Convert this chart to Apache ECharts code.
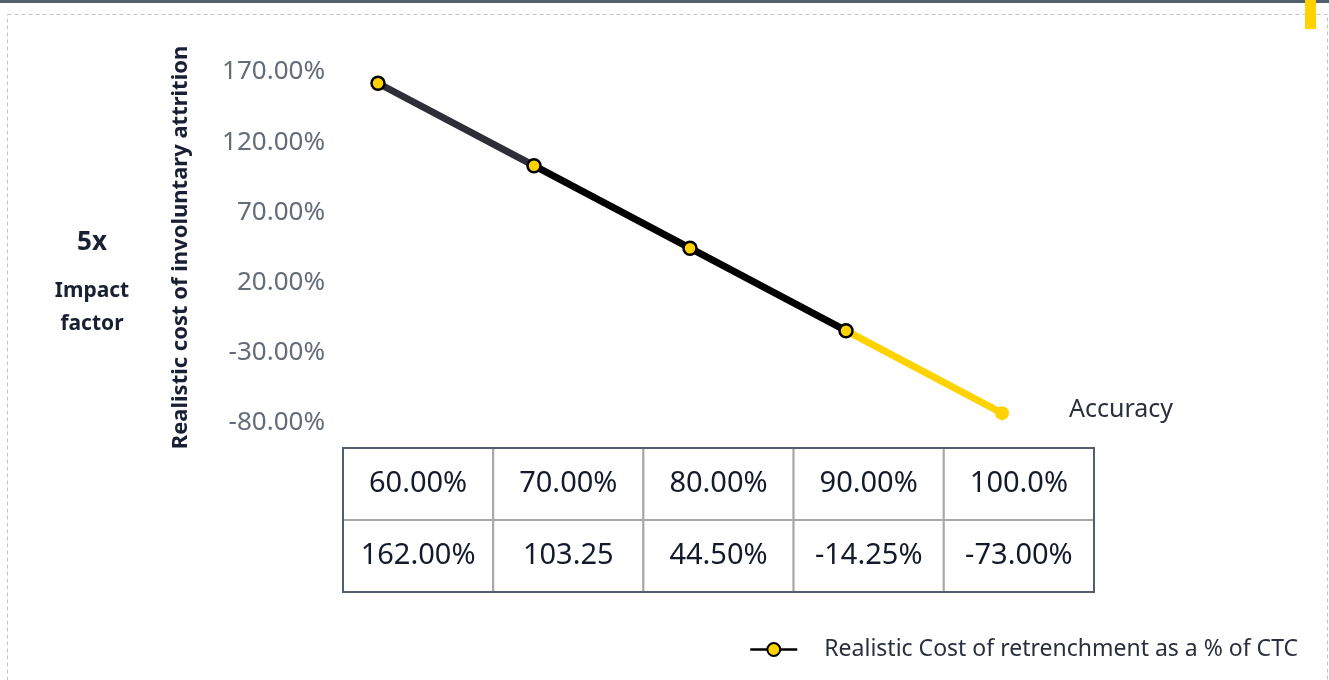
<!DOCTYPE html>
<html>
<head>
<meta charset="utf-8">
<script src="https://cdn.jsdelivr.net/npm/echarts@6/dist/echarts.min.js"></script>
<style>
html,body{margin:0;padding:0;background:#fff;}
#chart{width:1329px;height:680px;}
</style>
</head>
<body>
<div id="chart"></div>
<script>
// ---- data ----
const accuracyCategories = ['60%', '70%', '80%', '90%', '100%'];
const costValues = [162.00, 103.25, 44.50, -14.25, -73.00];
const tableHeaderLabels = ['60.00%', '70.00%', '80.00%', '90.00%', '100.0%'];
const tableValueLabels = ['162.00%', '103.25', '44.50%', '-14.25%', '-73.00%'];
const yTickMin = -80, yTickMax = 170, yTickStep = 50;
const seriesName = 'Realistic Cost of retrenchment as a % of CTC';
const yAxisTitle = 'Realistic cost of involuntary attrition';
const xAxisTitle = 'Accuracy';
const impactValue = '5x';
const impactLines = ['Impact', 'factor'];

const FONT = '"Noto Sans", sans-serif';
const DARK = '#1a2033';

const tableCells = [];
tableHeaderLabels.forEach((t, i) => tableCells.push({ value: [i, 0], text: t }));
tableValueLabels.forEach((t, i) => tableCells.push({ value: [i, 1], text: t }));

const lineData = costValues.map((v, i) => {
  if (i === costValues.length - 1) {
    return { value: v, itemStyle: { color: '#FFD200', borderWidth: 0 }, symbolSize: 14 };
  }
  return v;
});

const chart = echarts.init(document.getElementById('chart'), null, { renderer: 'canvas' });
chart.setOption({
  backgroundColor: '#ffffff',
  animation: false,
  textStyle: { fontFamily: FONT },
  graphic: [
    { type: 'rect', z: 0, shape: { x: 7.5, y: 14.5, width: 1320, height: 700 },
      style: { fill: 'none', stroke: '#c4c4c4', lineWidth: 1, lineDash: [4, 3] } },
    { type: 'rect', z: 1, shape: { x: 0, y: 0, width: 1329, height: 3 }, style: { fill: '#545f6d' } },
    { type: 'rect', z: 2, shape: { x: 1305, y: 0, width: 11, height: 29 }, style: { fill: '#FFD200' } },
    { type: 'text', x: 92, y: 243, style: { text: impactValue, font: 'bold 26px ' + FONT, fill: DARK,
      align: 'center', verticalAlign: 'middle' } },
    { type: 'text', x: 92, y: 291, style: { text: impactLines[0], font: 'bold 21px ' + FONT, fill: DARK,
      align: 'center', verticalAlign: 'middle' } },
    { type: 'text', x: 92, y: 324, style: { text: impactLines[1], font: 'bold 21px ' + FONT, fill: DARK,
      align: 'center', verticalAlign: 'middle' } },
    { type: 'text', x: 1069, y: 410, style: { text: xAxisTitle, font: '25px ' + FONT, fill: '#2a2f3d',
      align: 'left', verticalAlign: 'middle' } }
  ],
  legend: {
    right: 26, top: 633,
    itemWidth: 47, itemHeight: 16,
    textStyle: { fontSize: 23, color: '#2a2f3d', padding: [0, 0, 0, 22], fontFamily: FONT },
    lineStyle: { color: '#000', width: 2.5 },
    itemStyle: { color: '#FFD200', borderColor: '#000', borderWidth: 2 },
    data: [seriesName]
  },
  grid: [
    { left: 378, right: 327, top: 72, height: 351 },
    { left: 343, top: 448, width: 751, height: 144, show: true, borderColor: '#545f6d', borderWidth: 2,
      backgroundColor: 'transparent', z: 5 }
  ],
  xAxis: [
    { type: 'category', gridIndex: 0, data: accuracyCategories, boundaryGap: false,
      axisLine: { show: false }, axisTick: { show: false }, axisLabel: { show: false } },
    { type: 'category', gridIndex: 1, data: tableHeaderLabels,
      axisLine: { show: false }, axisTick: { show: false }, axisLabel: { show: false } }
  ],
  yAxis: [
    { type: 'value', gridIndex: 0, min: yTickMin, max: yTickMax, interval: yTickStep,
      axisLine: { show: false }, axisTick: { show: false }, splitLine: { show: false },
      axisLabel: { fontSize: 26, color: '#646c78', margin: 53, fontFamily: FONT,
        formatter: v => v.toFixed(2) + '%' },
      name: yAxisTitle, nameLocation: 'middle', nameRotate: 90, nameGap: 186,
      nameTextStyle: { fontSize: 22, fontWeight: 'bold', color: DARK, fontFamily: FONT } },
    { type: 'category', gridIndex: 1, data: ['header', 'values'], inverse: true,
      axisLine: { show: false }, axisTick: { show: false }, axisLabel: { show: false } }
  ],
  series: [
    {
      name: seriesName, type: 'line', xAxisIndex: 0, yAxisIndex: 0,
      data: lineData,
      symbol: 'circle', symbolSize: 13,
      lineStyle: { width: 7, color: { type: 'linear', x: 0, y: 0, x2: 1, y2: 0, colorStops: [
        { offset: 0, color: '#2e2e38' }, { offset: 0.25, color: '#2e2e38' },
        { offset: 0.25, color: '#000000' }, { offset: 0.75, color: '#000000' },
        { offset: 0.75, color: '#FFD200' }, { offset: 1, color: '#FFD200' } ] } },
      itemStyle: { color: '#FFD200', borderColor: '#000', borderWidth: 2.5 },
      emphasis: { disabled: true }
    },
    {
      name: 'table', type: 'custom', xAxisIndex: 1, yAxisIndex: 1,
      data: tableCells,
      renderItem: function (params, api) {
        const c = api.coord([api.value(0), api.value(1)]);
        const s = api.size([1, 1]);
        const cell = tableCells[params.dataIndex];
        return {
          type: 'group',
          children: [
            { type: 'rect', shape: { x: c[0] - s[0] / 2, y: c[1] - s[1] / 2, width: s[0], height: s[1] },
              style: { fill: '#fff', stroke: '#a8a8a8', lineWidth: 2 } },
            { type: 'text', style: { x: c[0], y: c[1], text: cell.text, align: 'center', verticalAlign: 'middle',
              font: '29px ' + FONT, fill: '#141a2c' } }
          ]
        };
      },
      z: 1
    }
  ]
});
</script>
</body>
</html>
